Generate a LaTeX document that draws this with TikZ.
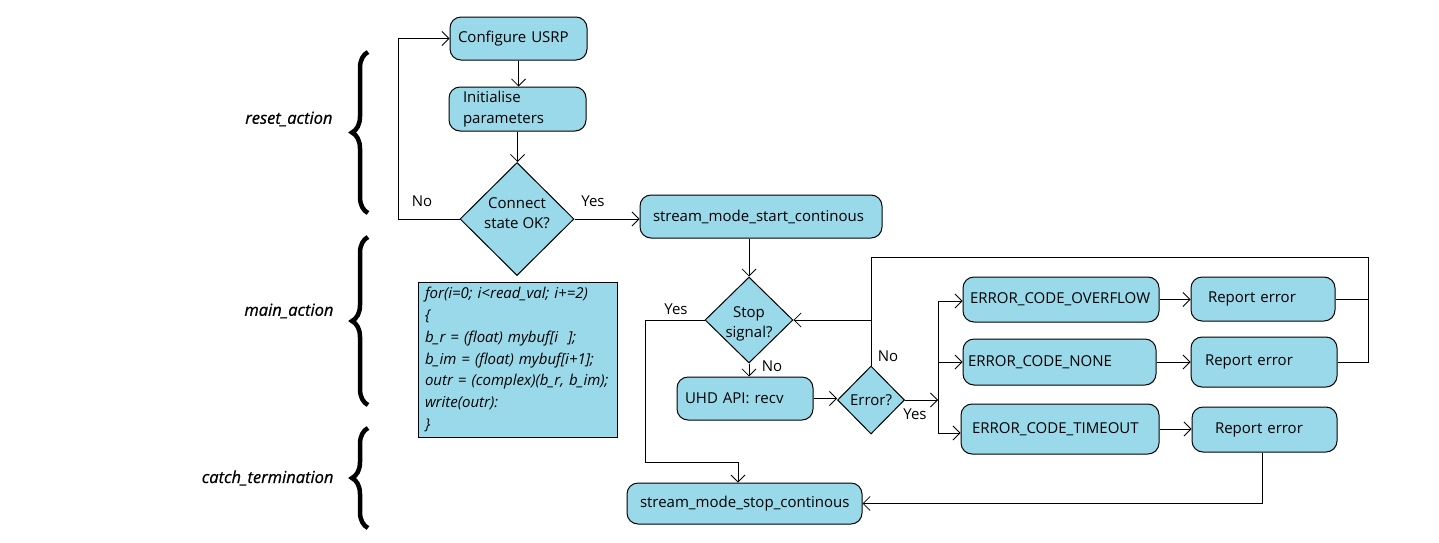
\documentclass[tikz,border=0pt]{standalone}
\usepackage{fontspec}
\setmainfont{Open Sans}
\newfontfamily\sidefont[FakeBold=0.7]{Open Sans}
\usetikzlibrary{shapes.geometric,arrows.meta,decorations.pathreplacing}
\definecolor{fillc}{RGB}{153,217,234}
\begin{document}
\begin{tikzpicture}[x=1pt,y=-1pt,
  every node/.style={font=\fontsize{15}{20}\selectfont},
  box/.style={draw, fill=fillc, rounded corners=11pt, line width=1pt, inner ysep=0pt, align=left},
  dia/.style={draw, fill=fillc, diamond, line width=1pt, inner sep=0pt, align=center},
  dtext/.style={align=center, inner sep=0pt, font=\fontsize{15}{19.5}\selectfont},
  arr/.style={line width=0.9pt, -{Straight Barb[length=7pt,width=14pt,line width=0.8pt]}},
  ln/.style={line width=0.9pt},
  lbl/.style={font=\fontsize{15}{18}\selectfont},
  side/.style={font=\sidefont\itshape\fontsize{16.5}{20}\selectfont, anchor=east},
  brc/.style={decorate, decoration={brace, amplitude=16pt}, line width=4.5pt}]
\useasboundingbox (0,0) rectangle (1439,542);

% braces and side labels
\draw[brc] (368,213) -- (368,52);
\draw[brc] (368,405) -- (368,237);
\draw[brc] (368,528) -- (368,428);
\node[side] (la) at (336,119) {reset\_action};
\node[side] (lb) at (337,311) {main\_action};
\node[side] (lc) at (337,478) {catch\_termination};

% nodes
\node[box, inner xsep=8pt, text width=121pt, minimum height=43pt] (cfg) at (518.5,38.5) {Configure USRP};
\node[box, inner xsep=14pt, text width=109pt, minimum height=44pt, font=\fontsize{15}{21}\selectfont] (ini) at (517.5,109) {Initialise\\parameters};
\node[dia, minimum width=114pt, minimum height=113pt] (conn) at (517,219) {};
\node[dtext] (connt) at ([yshift=6pt]conn.center) {Connect\\state OK?};
\node[box, inner xsep=13pt, text width=216pt, minimum height=43pt] (start) at (761,216.5) {stream\_mode\_start\_continous};
\node[draw, fill=fillc, line width=1pt, inner xsep=7pt, inner ysep=0pt, text width=185pt, minimum height=155pt, align=left, font=\itshape\fontsize{15}{21.7}\selectfont] (code) at (517.5,359.5)
  {for(i=0; i<read\_val; i+=2)\\ \{\\ b\_r = (float) mybuf[i~~];\\ b\_im = (float) mybuf[i+1];\\ outr = (complex)(b\_r, b\_im);\\ write(outr):\\ \}};
\node[dia, minimum width=88pt, minimum height=86pt] (stop) at (749,320) {};
\node[dtext] (stopt) at ([yshift=-4pt]stop.center) {Stop\\signal?};
\node[box, inner xsep=8pt, text width=120pt, minimum height=43pt] (uhd) at (745,398.5) {UHD API: recv};
\node[dia, minimum width=67pt, minimum height=68pt] (err) at (871,400) {Error?};
\node[box, inner xsep=7pt, text width=182pt, minimum height=45pt] (ovf) at (1061,299.5) {ERROR\_CODE\_OVERFLOW};
\node[box, inner xsep=5pt, text width=183pt, minimum height=46pt] (none) at (1059.5,362) {ERROR\_CODE\_NONE};
\node[box, inner xsep=11pt, text width=176pt, minimum height=50pt] (tout) at (1060,429) {ERROR\_CODE\_TIMEOUT};
\node[box, inner xsep=17pt, text width=110pt, minimum height=44pt] (rep1) at (1263,299) {Report error\\[-6pt]};
\node[box, inner xsep=14pt, text width=118pt, minimum height=50pt] (rep2) at (1264,362) {Report error};
\node[box, inner xsep=23pt, text width=99pt, minimum height=45pt] (rep3) at (1264.5,429.5) {Report error\\[-6pt]};
\node[box, inner xsep=13pt, text width=209pt, minimum height=41pt] (stopm) at (744.5,503.5) {stream\_mode\_stop\_continous};

% connectors
\draw[arr] (cfg.south) -- (cfg.south |- ini.north);
\draw[arr] (ini.south) -- (ini.south |- conn.north);
\draw[arr] (conn.west) -- ++(-61,0) |- (cfg.west);
\draw[arr] (conn.east) -- (conn.east -| start.west);
\draw[arr] (stop.north |- start.south) -- (stop.north);
\draw[arr] (stop.west) -- (645,320) -- (645,462) -- (738,462) -- (stopm.north -| 738,0);
\draw[arr] (stop.south) -- (stop.south |- uhd.north);
\draw[arr] (uhd.east) -- (uhd.east -| err.west);
\draw[ln] (err.north) -- (871,320) coordinate (j1);
\draw[arr] (j1) -- (stop.east);
\draw[ln] (rep1.east) -- (1368,299);
\draw[ln] (rep2.east) -- (1368,362) -- (1368,257) -- (871,257) -- (j1);
\draw[arr] (err.east) -- (938,400) coordinate (j2);
\draw[ln] (938,301) -- (938,433);
\draw[arr] (938,301) -- (938,301 -| ovf.west);
\draw[arr] (938,362) -- (none.west);
\draw[arr] (938,433) -- (938,433 -| tout.west);
\draw[arr] (ovf.east) -- (ovf.east -| rep1.west);
\draw[arr] (none.east) -- (none.east -| rep2.west);
\draw[arr] (tout.east) -- (tout.east -| rep3.west);
\draw[arr] (rep3.south -| 1262,0) |- (stopm.east);

% labels
\node[lbl] (n1) at (422,201) {No};
\node[lbl] (y1) at (593,201) {Yes};
\node[lbl] (y2) at (676,309) {Yes};
\node[lbl] (n2) at (772,366) {No};
\node[lbl] (n3) at (888,356) {No};
\node[lbl] (y3) at (915,414) {Yes};
\end{tikzpicture}
\end{document}
